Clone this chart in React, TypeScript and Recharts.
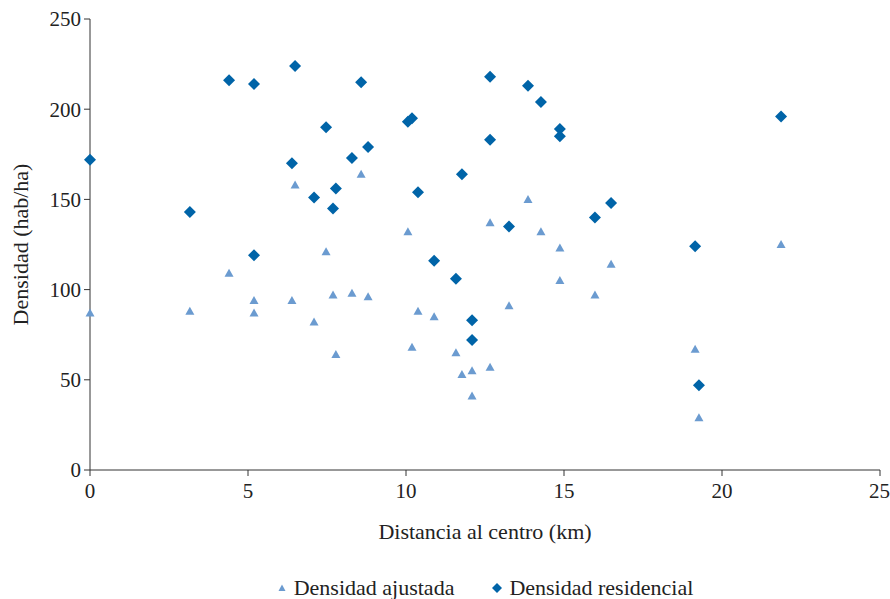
import { ScatterChart, Scatter, XAxis, YAxis, Legend } from 'recharts';

// Distancia al centro (km), compartida por ambas series
const distancias = [
  0, 3.16, 4.4, 5.19, 5.19, 6.39, 6.49, 7.09, 7.47, 7.69, 7.78, 8.29, 8.58, 8.8,
  10.06, 10.19, 10.38, 10.89, 11.58, 11.77, 12.09, 12.09, 12.66, 12.66, 13.26,
  13.86, 14.27, 14.87, 14.87, 15.98, 16.49, 19.15, 19.27, 21.87,
];
const densidadResidencial = [
  172, 143, 216, 214, 119, 170, 224, 151, 190, 145, 156, 173, 215, 179, 193, 195,
  154, 116, 106, 164, 83, 72, 218, 183, 135, 213, 204, 189, 185, 140, 148, 124,
  47, 196,
];
const densidadAjustada = [
  87, 88, 109, 94, 87, 94, 158, 82, 121, 97, 64, 98, 164, 96, 132, 68, 88, 85, 65,
  53, 55, 41, 137, 57, 91, 150, 132, 123, 105, 97, 114, 67, 29, 125,
];
const xTicks = [0, 5, 10, 15, 20, 25];
const yTicks = [0, 50, 100, 150, 200, 250];

const COLOR_RES = '#0064a8';
const COLOR_AJU = '#6b9bd0';
const TEXT = '#222';
const FONT = '"Liberation Serif", "DejaVu Serif", serif';

const resData = distancias.map((x, i) => ({ x, y: densidadResidencial[i] }));
const ajuData = distancias.map((x, i) => ({ x, y: densidadAjustada[i] }));

const Diamond = (props: any) => {
  const { cx, cy } = props;
  const r = 6;
  return (
    <path
      d={`M${cx},${cy - r}L${cx + r},${cy}L${cx},${cy + r}L${cx - r},${cy}Z`}
      fill={COLOR_RES}
    />
  );
};

const Triangle = (props: any) => {
  const { cx, cy } = props;
  return (
    <path
      d={`M${cx},${cy - 4.5}L${cx + 4.5},${cy + 3.5}L${cx - 4.5},${cy + 3.5}Z`}
      fill={COLOR_AJU}
    />
  );
};

const renderLegend = (props: any) => {
  const { payload = [] } = props;
  return (
    <div
      style={{
        display: 'flex',
        justifyContent: 'center',
        gap: 38,
        fontSize: 22,
        lineHeight: '24px',
        fontFamily: FONT,
        color: TEXT,
      }}
    >
      {payload.map((entry: any) => (
        <span
          key={entry.value}
          style={{ display: 'flex', alignItems: 'center', gap: 7 }}
        >
          <svg width={10} height={10}>
            {entry.type === 'triangle' ? (
              <path d='M5,1.5L8.5,8L1.5,8Z' fill={COLOR_AJU} />
            ) : (
              <path d='M5,0L10,5L5,10L0,5Z' fill={COLOR_RES} />
            )}
          </svg>
          {entry.value}
        </span>
      ))}
    </div>
  );
};

export default function App() {
  return (
    <div
      style={{
        position: 'absolute',
        left: 0,
        top: 0,
        background: '#fff',
        fontFamily: FONT,
      }}
    >
      <ScatterChart
        width={890}
        height={599}
        margin={{ top: 19, right: 10, bottom: 0, left: 0 }}
        style={{ fontFamily: FONT }}
      >
        <XAxis
          type='number'
          dataKey='x'
          domain={[0, 25]}
          ticks={xTicks}
          height={129}
          tickSize={6}
          tickMargin={7}
          stroke='#333'
          tick={{ fontSize: 21, fill: TEXT, fontFamily: FONT }}
          label={{
            value: 'Distancia al centro (km)',
            position: 'insideTop',
            offset: 53,
            fontSize: 22,
            fontFamily: FONT,
            fill: TEXT,
          }}
        />
        <YAxis
          type='number'
          dataKey='y'
          domain={[0, 250]}
          ticks={yTicks}
          width={90}
          tickSize={6}
          tickMargin={3}
          stroke='#333'
          tick={{ fontSize: 21, fill: TEXT, fontFamily: FONT }}
          label={{
            value: 'Densidad (hab/ha)',
            angle: -90,
            position: 'insideLeft',
            offset: 20,
            fontSize: 22,
            fontFamily: FONT,
            fill: TEXT,
            style: { textAnchor: 'middle' },
          }}
        />
        <Legend
          verticalAlign='middle'
          align='center'
          content={renderLegend}
          wrapperStyle={{ left: 90, width: 790, top: 576, height: 24 }}
        />
        <Scatter
          name='Densidad ajustada'
          data={ajuData}
          legendType='triangle'
          shape={Triangle}
          isAnimationActive={false}
        />
        <Scatter
          name='Densidad residencial'
          data={resData}
          legendType='diamond'
          shape={Diamond}
          isAnimationActive={false}
        />
      </ScatterChart>
    </div>
  );
}
